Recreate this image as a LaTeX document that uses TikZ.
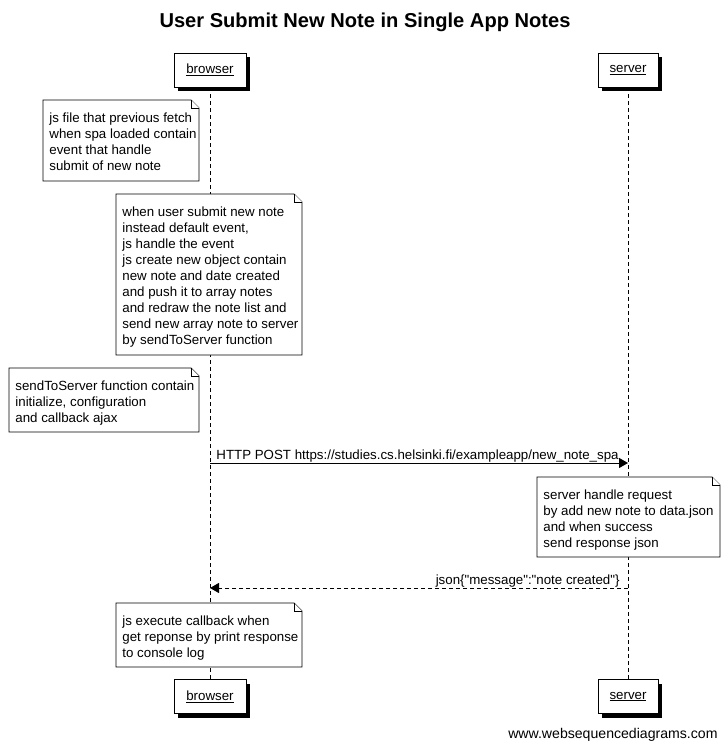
\documentclass[tikz,border=0pt]{standalone}
\usepackage{fontspec}
\setmainfont{Liberation Sans}
\usetikzlibrary{arrows.meta,calc,shadows}
\newcommand\mynote[6]{%
  \draw[notebox] (#2,#3) -- ({#4-8},#3) -- (#4,{#3+8}) -- (#4,#5) -- (#2,#5) -- cycle;
  \draw[notebox] ({#4-8},#3) -- ({#4-8},{#3+8}) -- (#4,{#3+8});
  \node[notetext, anchor=north west] (#1) at ({#2+6},{#3+12.2}) {#6};
}
\begin{document}
\begin{tikzpicture}[x=1pt,y=-1pt,line width=0.9pt,
  actor/.style={draw, fill=white, minimum height=34pt, inner sep=0pt,
    font=\fontsize{13.3}{15}\selectfont,
    drop shadow={shadow xshift=4pt, shadow yshift=-4pt, fill=black, opacity=1}},
  notebox/.style={draw, fill=white, line width=0.9pt},
  notetext/.style={inner sep=0pt, align=left, font=\fontsize{13.3}{16}\selectfont},
  lifeline/.style={dash pattern=on 4pt off 3pt, line width=0.8pt},
  msgtext/.style={inner sep=0pt, font=\fontsize{13.3}{15}\selectfont},
  msg/.style={-{Triangle[length=9pt,width=10pt]}, line width=0.9pt},
]
\useasboundingbox (0,0) rectangle (727,747);
\node[font=\bfseries\fontsize{20.1}{24}\selectfont] (title) at (365,22) {User Submit New Note in Single App Notes};

% lifelines first
\coordinate (btop) at (210,87);
\coordinate (bbot) at (210,680);
\coordinate (stop) at (628,87);
\coordinate (sbot) at (628,680);
\draw[lifeline] (btop) -- (bbot);
\draw[lifeline] (stop) -- (sbot);

\node[actor, minimum width=72pt] (bt) at (210,70) {\underline{browser}};
\node[actor, minimum width=60pt] (st) at (628,70) {\underline{server}};
\node[actor, minimum width=72pt] (bb) at (210,696.5) {\underline{browser}};
\node[actor, minimum width=60pt] (sb) at (628,696.5) {\underline{server}};

\mynote{n1}{43}{100}{199}{181}{js file that previous fetch\\when spa loaded contain\\event that handle\\submit of new note}
\mynote{n2}{116}{194}{302}{355}{when user submit new note\\instead default event,\\js handle the event\\js create new object contain\\new note and date created\\and push it to array notes\\and redraw the note list and\\send new array note to server\\by sendToServer function}
\mynote{n3}{9}{368}{199}{432}{sendToServer function contain\\initialize, configuration\\and callback ajax}

\coordinate (m1a) at (210,463);
\coordinate (m1b) at (628,463);
\draw[msg] (m1a) -- (m1b);
\node[msgtext, anchor=base west] (m1) at (216,459.5) {HTTP POST https://studies.cs.helsinki.fi/exampleapp/new\_note\_spa};

\mynote{n4}{537}{477}{720}{557}{server handle request\\by add new note to data.json\\and when success\\send response json}

\coordinate (m2a) at (628,588);
\coordinate (m2b) at (210,588);
\draw[msg, dash pattern=on 4pt off 3pt] (m2a) -- (m2b);
\node[msgtext, anchor=base east] (m2) at (620,584.5) {json\{\textquotedbl message\textquotedbl:\textquotedbl note created\textquotedbl\}};

\mynote{n5}{116}{603}{302}{667}{js execute callback when\\get reponse by print response\\to console log}

\node[inner sep=0pt, anchor=base east, font=\fontsize{14.1}{16}\selectfont] (footer) at (718,738) {www.websequencediagrams.com};
\end{tikzpicture}
\end{document}
